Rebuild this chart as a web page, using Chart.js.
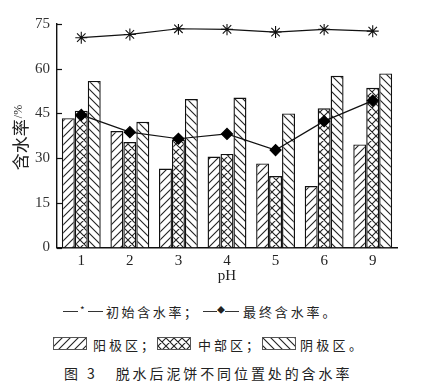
<!DOCTYPE html>
<html>
<head>
<meta charset="utf-8">
<script src="https://cdn.jsdelivr.net/npm/chart.js@4.4.0/dist/chart.umd.min.js"></script>
<style>
  body { margin: 0; background: #fff; }
  #wrap { position: relative; width: 427px; height: 386px; }
  #c { position: absolute; left: 0; top: 0; }
  .t { position: absolute; font-family: "Noto Sans CJK SC", sans-serif; font-size: 13px; color: #222; white-space: nowrap; line-height: 1; }
  .sw { position: absolute; width: 32px; height: 11px; border: 1px solid #555; }
  .dash { position: absolute; height: 1px; background: #333; }
</style>
</head>
<body>
<div id="wrap">
  <canvas id="c" width="427" height="290"></canvas>
  <!-- line legend -->
  <div class="dash" style="left:63px; top:311px; width:15px;"></div>
  <div class="t" style="left:80px; top:305px; font-size:10px;">*</div>
  <div class="dash" style="left:88px; top:311px; width:15px;"></div>
  <div class="t" style="left:106px; top:305px; letter-spacing:2.6px;">初始含水率；</div>
  <div class="dash" style="left:203px; top:311px; width:14px;"></div>
  <div class="t" style="left:217px; top:306px; font-size:8px;">◆</div>
  <div class="dash" style="left:225px; top:311px; width:14px;"></div>
  <div class="t" style="left:243px; top:305px; letter-spacing:2.9px;">最终含水率。</div>
  <!-- bar legend -->
  <div class="sw" id="sw1" style="left:53px; top:337px;"></div>
  <div class="t" style="left:93px; top:338px; letter-spacing:3px;">阳极区；</div>
  <div class="sw" id="sw2" style="left:157px; top:337px;"></div>
  <div class="t" style="left:198px; top:338px; letter-spacing:3px;">中部区；</div>
  <div class="sw" id="sw3" style="left:262px; top:337px;"></div>
  <div class="t" style="left:300px; top:338px; letter-spacing:3.3px;">阴极区。</div>
  <div class="t" style="left:64px; top:366px; font-size:14px; letter-spacing:2.9px;">图 3&nbsp;&nbsp;&nbsp;脱水后泥饼不同位置处的含水率</div>
</div>
<script>
// data
var phLabels = ['1', '2', '3', '4', '5', '6', '9'];
var anode   = [43.4, 39.1, 26.5, 30.5, 28.2, 20.6, 34.6];
var middle  = [45.9, 35.4, 36.2, 31.4, 24.0, 46.7, 53.6];
var cathode = [55.9, 42.2, 49.8, 50.3, 45.0, 57.6, 58.4];
var initialWater = [70.4, 71.5, 73.4, 73.2, 72.3, 73.2, 72.6];
var finalWater   = [44.5, 38.7, 36.5, 38.1, 32.7, 42.4, 49.3];
var yTicks = [0, 15, 30, 45, 60, 75];

function hatch(kind) {
  var s = 8;
  var p = document.createElement('canvas');
  p.width = s; p.height = s;
  var g = p.getContext('2d');
  g.fillStyle = '#fff';
  g.fillRect(0, 0, s, s);
  g.strokeStyle = '#222';
  g.lineWidth = 1.1;
  g.beginPath();
  if (kind == 'fwd' || kind == 'cross') {
    g.moveTo(-1, s + 1); g.lineTo(s + 1, -1);
    g.moveTo(-1, 1); g.lineTo(1, -1);
    g.moveTo(s - 1, s + 1); g.lineTo(s + 1, s - 1);
  }
  if (kind == 'back' || kind == 'cross') {
    g.moveTo(-1, -1); g.lineTo(s + 1, s + 1);
    g.moveTo(s - 1, -1); g.lineTo(s + 1, 1);
    g.moveTo(-1, s - 1); g.lineTo(1, s + 1);
  }
  g.stroke();
  return p;
}

var ctx = document.getElementById('c').getContext('2d');
var pFwd = ctx.createPattern(hatch('fwd'), 'repeat');
var pCross = ctx.createPattern(hatch('cross'), 'repeat');
var pBack = ctx.createPattern(hatch('back'), 'repeat');

// legend swatches
document.getElementById('sw1').style.background = 'url(' + hatch('fwd').toDataURL() + ')';
document.getElementById('sw2').style.background = 'url(' + hatch('cross').toDataURL() + ')';
document.getElementById('sw3').style.background = 'url(' + hatch('back').toDataURL() + ')';

var serif = '"Liberation Serif", "Times New Roman", serif';

var extras = {
  id: 'extras',
  afterDraw: function(chart) {
    var c = chart.ctx;
    var y = chart.scales.y;
    var x = chart.scales.x;
    c.save();
    c.strokeStyle = '#111';
    c.lineWidth = 1.2;
    yTicks.forEach(function(v) {
      var py = Math.round(y.getPixelForValue(v)) + 0.5;
      c.beginPath();
      c.moveTo(x.left, py);
      c.lineTo(x.left + 5, py);
      c.stroke();
    });
    c.fillStyle = '#222';
    c.textAlign = 'center';
    c.textBaseline = 'middle';
    c.font = '15px ' + serif;
    c.fillText('pH', (x.left + x.right) / 2, 276);
    // y title
    c.translate(21, 138);
    c.rotate(-Math.PI / 2);
    c.font = '17px "Noto Sans CJK SC", sans-serif';
    c.textAlign = 'left';
    var w1 = c.measureText('含水率').width;
    c.font = '12px ' + serif;
    var w2 = c.measureText('/%').width;
    var start = -(w1 + w2) / 2;
    c.font = '17px "Noto Sans CJK SC", sans-serif';
    c.fillText('含水率', start, 0);
    c.font = '12px ' + serif;
    c.fillText('/%', start + w1 + 1, -2);
    c.restore();
  }
};

new Chart(ctx, {
  data: {
    labels: phLabels,
    datasets: [
      { type: 'line', label: '初始含水率', data: initialWater, order: 0,
        borderColor: '#111', borderWidth: 1.2, backgroundColor: '#111',
        pointStyle: 'star', pointRadius: 6, pointBorderWidth: 1.1, pointBorderColor: '#111' },
      { type: 'line', label: '最终含水率', data: finalWater, order: 0,
        borderColor: '#111', borderWidth: 1.2, backgroundColor: '#000',
        pointStyle: 'rectRot', pointRadius: 5.5, pointBorderColor: '#000', pointBackgroundColor: '#000' },
      { type: 'bar', label: '阳极区', data: anode, order: 1,
        backgroundColor: pFwd, borderColor: '#111', borderWidth: 1.4,
        categoryPercentage: 0.8, barPercentage: 1.0 },
      { type: 'bar', label: '中部区', data: middle, order: 1,
        backgroundColor: pCross, borderColor: '#111', borderWidth: 1.4,
        categoryPercentage: 0.8, barPercentage: 1.0 },
      { type: 'bar', label: '阴极区', data: cathode, order: 1,
        backgroundColor: pBack, borderColor: '#111', borderWidth: 1.4,
        categoryPercentage: 0.8, barPercentage: 1.0 }
    ]
  },
  options: {
    responsive: false,
    animation: false,
    layout: { padding: { left: 0, right: 30, top: 24, bottom: 0 } },
    plugins: { legend: { display: false }, tooltip: { enabled: false } },
    scales: {
      x: {
        grid: { display: false, drawTicks: false },
        border: { display: true, color: '#111', width: 1.4 },
        ticks: { color: '#222', padding: 5, font: { family: serif, size: 15 } },
        afterFit: function(s) { s.height = 290 - 247.5; }
      },
      y: {
        min: 0, max: 75,
        grid: { display: false, drawTicks: false },
        border: { display: true, color: '#111', width: 1.4 },
        ticks: { stepSize: 15, color: '#333', padding: 7, font: { family: serif, size: 15 } },
        afterFit: function(s) { s.width = 57; }
      }
    }
  },
  plugins: [extras]
});
</script>
</body>
</html>
